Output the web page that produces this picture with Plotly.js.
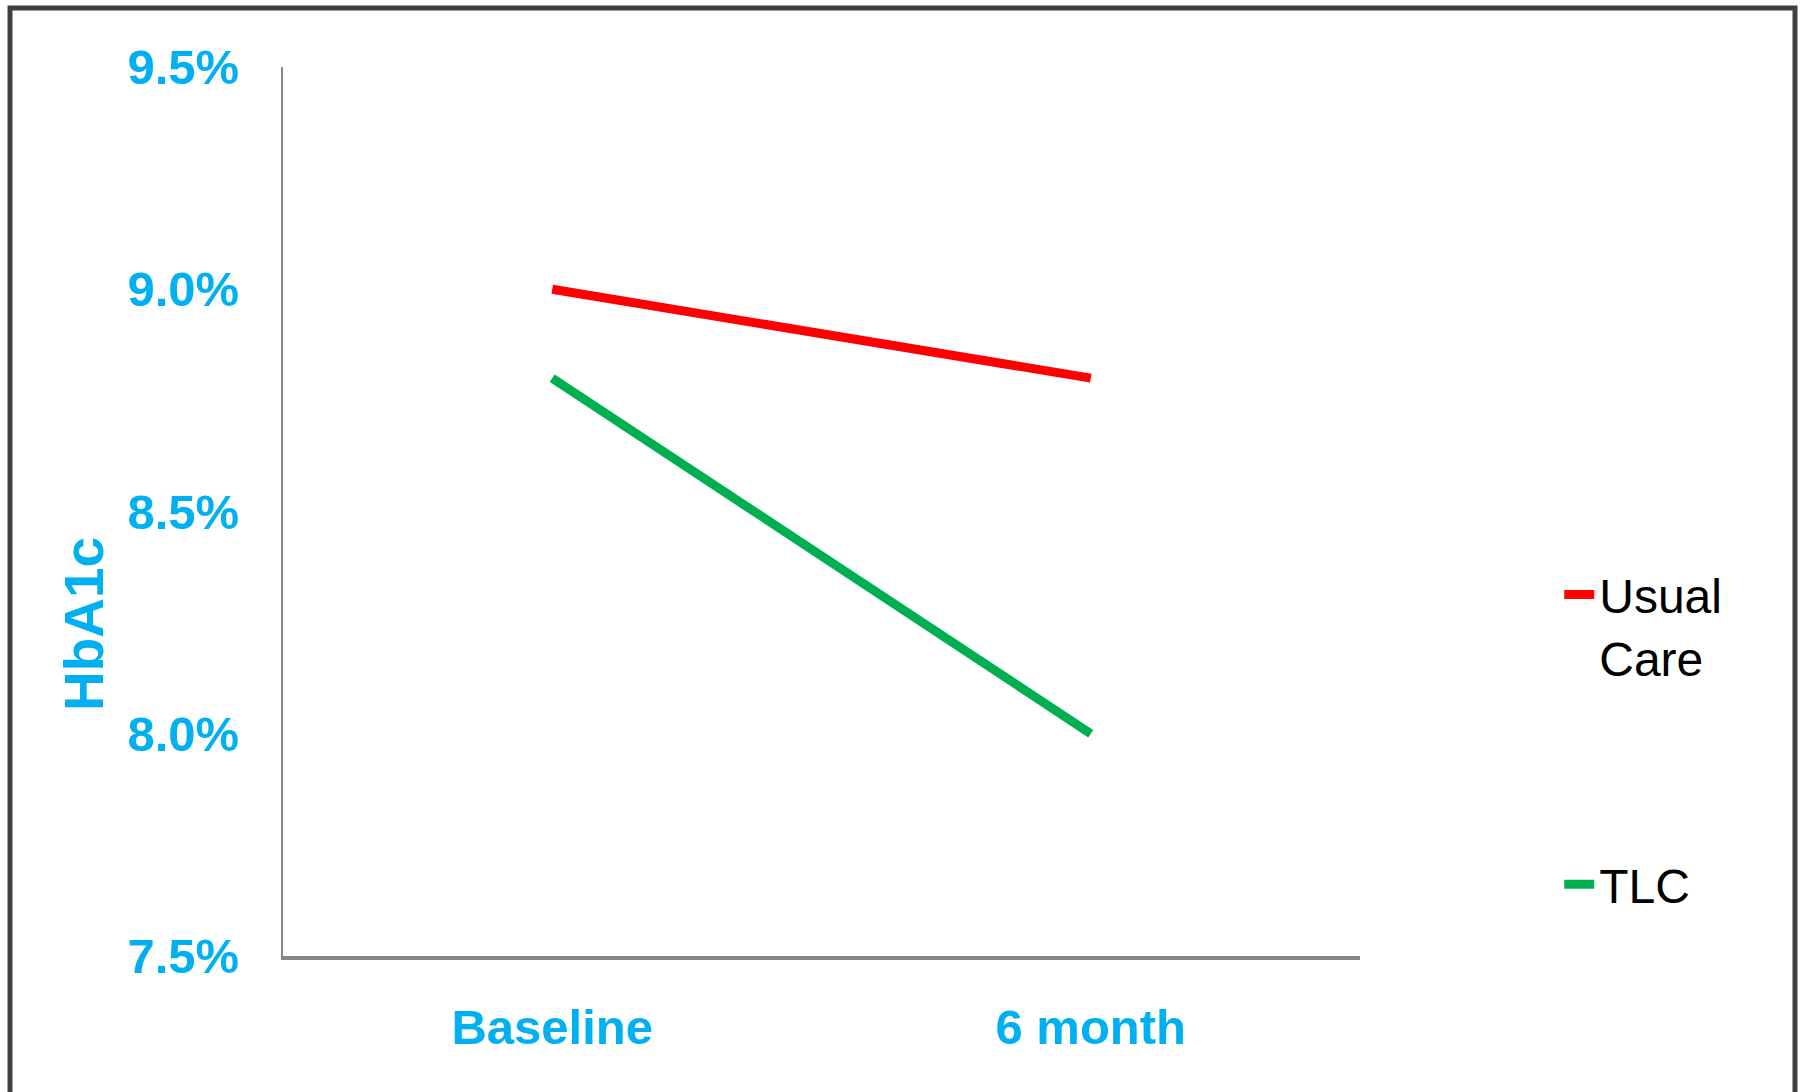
<!DOCTYPE html>
<html>
<head>
<meta charset="utf-8">
<script src="https://cdn.plot.ly/plotly-3.0.1.min.js"></script>
<style>
  html, body { margin: 0; padding: 0; background: #ffffff; }
  #chart { width: 1800px; height: 1092px; }
</style>
</head>
<body>
<div id="chart"></div>
<script>
// ---- data ----
const categories = ["Baseline", "6 month"];
const usualCare = [9.0, 8.8];
const tlc = [8.8, 8.0];
const seriesNames = ["Usual<br>Care", "TLC"];
const yTickVals = [7.5, 8.0, 8.5, 9.0, 9.5];
const yTickText = ["7.5%", "8.0%", "8.5%", "9.0%", "9.5%"];
const yTitle = "HbA1c";

const blue = "#00B0F0";
const narrow = "'Liberation Sans Narrow', 'Arial Narrow', 'Liberation Sans', Arial, sans-serif";

const traces = [
  {
    x: categories, y: usualCare, name: seriesNames[0], type: "scatter", mode: "lines",
    line: { color: "#FF0000", width: 9 }, legendgroup: "a"
  },
  {
    x: categories, y: tlc, name: seriesNames[1], type: "scatter", mode: "lines",
    line: { color: "#00B050", width: 9 }, legendgroup: "b"
  }
];

const layout = {
  width: 1800, height: 1092,
  paper_bgcolor: "#ffffff", plot_bgcolor: "#ffffff",
  margin: { l: 283, r: 440, t: 67, b: 136 },
  showlegend: true,
  legend: {
    x: 1.185, xanchor: "left", y: 0.449, yanchor: "top",
    font: { family: "'Liberation Sans', Arial, sans-serif", size: 48, color: "#000000" },
    valign: "top", tracegroupgap: 162, bgcolor: "rgba(0,0,0,0)"
  },
  xaxis: {
    type: "category", range: [-0.5, 1.5], showgrid: false, zeroline: false,
    showline: true, linecolor: "#878787", linewidth: 4, ticks: "",
    tickfont: { family: narrow, size: 49, color: blue, weight: "bold" },
    ticklabelstandoff: 25, fixedrange: true
  },
  yaxis: {
    range: [7.5, 9.5], tickvals: yTickVals, ticktext: yTickText,
    showgrid: false, zeroline: false, showline: true, linecolor: "#878787", linewidth: 2,
    ticks: "", tickfont: { family: narrow, size: 49, color: blue, weight: "bold" },
    ticklabelstandoff: 32, fixedrange: true
  },
  annotations: [
    { text: yTitle, xref: "paper", yref: "paper", x: (84 - 283) / 1077, y: (956 - 624) / 889,
      xanchor: "center", yanchor: "middle", textangle: -90, showarrow: false,
      font: { family: "'Liberation Sans', Arial, sans-serif", size: 55, color: blue, weight: "bold" } }
  ],
  shapes: [
    { type: "rect", xref: "paper", yref: "paper",
      x0: (10 - 283) / 1077, x1: (1795 - 283) / 1077,
      y0: (956 - 1110) / 889, y1: (956 - 8) / 889,
      line: { color: "#404040", width: 5 }, fillcolor: "rgba(0,0,0,0)", layer: "below" }
  ]
};

Plotly.newPlot("chart", traces, layout, { displayModeBar: false, staticPlot: true });
</script>
</body>
</html>
